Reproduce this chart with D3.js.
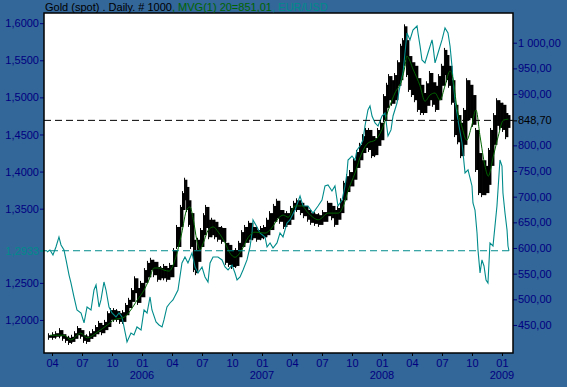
<!DOCTYPE html>
<html>
<head>
<meta charset="utf-8">
<script src="https://cdn.jsdelivr.net/npm/d3@7"></script>
<style>
html, body { margin: 0; padding: 0; background: #336699; }
svg { display: block; font-family: Arial, "Liberation Sans", sans-serif; }
</style>
</head>
<body>
<svg id="chart" width="567" height="387"></svg>
<script>
// time is in decimal years
const eurUsd = [
  [2005.208,1.2916],[2005.233,1.2943],[2005.258,1.2876],[2005.283,1.2984],[2005.308,1.3119],[2005.325,1.3011],
  [2005.350,1.2943],[2005.367,1.2809],[2005.392,1.2606],[2005.408,1.2499],[2005.433,1.2310],[2005.458,1.2135],
  [2005.492,1.2094],[2005.517,1.1960],[2005.542,1.2175],[2005.575,1.2135],[2005.600,1.2404],[2005.617,1.2472],
  [2005.642,1.2175],[2005.658,1.2270],[2005.683,1.2512],[2005.700,1.2404],[2005.725,1.2175],[2005.750,1.2094],
  [2005.783,1.2040],[2005.808,1.2094],[2005.833,1.2040],[2005.867,1.1771],[2005.875,1.1704],[2005.908,1.1825],
  [2005.933,1.1798],[2005.958,1.1906],[2005.992,1.1865],[2006.017,1.2135],[2006.042,1.2094],[2006.067,1.2310],
  [2006.083,1.2135],[2006.117,1.1973],[2006.142,1.1933],[2006.167,1.1906],[2006.183,1.2000],[2006.208,1.2175],
  [2006.233,1.2229],[2006.258,1.2270],[2006.300,1.2404],[2006.333,1.2768],[2006.358,1.2849],[2006.383,1.2768],
  [2006.417,1.2903],[2006.442,1.2714],[2006.467,1.2633],[2006.500,1.2714],[2006.525,1.2580],[2006.550,1.2512],
  [2006.567,1.2768],[2006.592,1.2849],[2006.633,1.2849],[2006.667,1.2809],[2006.692,1.2714],[2006.717,1.2674],
  [2006.750,1.2741],[2006.775,1.2633],[2006.792,1.2539],[2006.817,1.2580],[2006.842,1.2674],[2006.875,1.2809],
  [2006.900,1.2984],[2006.917,1.3173],[2006.925,1.3348],[2006.958,1.3253],[2006.983,1.3173],[2007.025,1.3119],
  [2007.042,1.2984],[2007.067,1.3038],[2007.092,1.2970],[2007.125,1.3038],[2007.150,1.3173],[2007.175,1.3119],
  [2007.208,1.3307],[2007.233,1.3348],[2007.275,1.3482],[2007.317,1.3671],[2007.342,1.3536],[2007.383,1.3536],
  [2007.425,1.3442],[2007.467,1.3536],[2007.500,1.3617],[2007.525,1.3806],[2007.550,1.3819],[2007.583,1.3738],
  [2007.608,1.3806],[2007.633,1.3536],[2007.667,1.3617],[2007.692,1.3806],[2007.708,1.3981],[2007.717,1.4156],
  [2007.750,1.4210],[2007.775,1.4156],[2007.792,1.4291],[2007.817,1.4345],[2007.842,1.4426],[2007.858,1.4614],
  [2007.883,1.4830],[2007.900,1.4884],[2007.917,1.4749],[2007.942,1.4655],[2007.967,1.4614],[2008.000,1.4749],
  [2008.025,1.4790],[2008.050,1.4480],[2008.075,1.4561],[2008.092,1.4749],[2008.125,1.4924],[2008.150,1.5154],
  [2008.175,1.5329],[2008.208,1.5868],[2008.233,1.5774],[2008.258,1.5908],[2008.292,1.5962],[2008.300,1.5868],
  [2008.317,1.5693],[2008.333,1.5504],[2008.358,1.5464],[2008.383,1.5598],[2008.417,1.5774],[2008.425,1.5693],
  [2008.442,1.5464],[2008.467,1.5598],[2008.500,1.5774],[2008.525,1.5935],[2008.550,1.5868],[2008.567,1.5693],
  [2008.583,1.5423],[2008.592,1.5234],[2008.608,1.4965],[2008.633,1.4695],[2008.667,1.4385],[2008.692,1.3981],
  [2008.717,1.4022],[2008.750,1.3806],[2008.758,1.3577],[2008.775,1.3482],[2008.792,1.3173],[2008.800,1.2943],
  [2008.817,1.2633],[2008.833,1.2809],[2008.850,1.2728],[2008.867,1.2539],[2008.883,1.2499],[2008.900,1.3038],
  [2008.925,1.2997],[2008.958,1.3536],[2008.983,1.4156],[2009.000,1.4075],[2009.008,1.3711],[2009.025,1.3442],
  [2009.042,1.3213],[2009.050,1.2997],[2009.058,1.2933]
];

// [time, low, high]
const goldBars = [
  [2005.233,425,430],[2005.267,425,432],[2005.292,427,434],[2005.325,428,440],[2005.350,423,432],[2005.375,419,427],
  [2005.400,415,425],[2005.425,417,427],[2005.450,423,434],[2005.475,430,444],[2005.500,427,440],[2005.525,419,430],
  [2005.550,417,428],[2005.575,423,434],[2005.600,427,438],[2005.625,432,446],[2005.650,436,454],[2005.675,434,450],
  [2005.700,440,456],[2005.725,446,473],[2005.750,460,479],[2005.775,460,479],[2005.800,460,477],[2005.825,456,473],
  [2005.850,456,475],[2005.875,469,489],[2005.900,483,499],[2005.925,495,518],[2005.950,512,541],[2005.975,493,522],
  [2006.000,504,532],[2006.033,532,557],[2006.058,543,571],[2006.083,557,577],[2006.108,547,573],[2006.142,538,563],
  [2006.167,541,561],[2006.192,541,565],[2006.217,538,561],[2006.242,543,567],[2006.275,563,596],[2006.300,602,641],
  [2006.333,641,680],[2006.350,674,707],[2006.367,693,733],[2006.383,674,719],[2006.400,645,693],[2006.417,602,668],
  [2006.442,557,616],[2006.458,551,596],[2006.475,573,616],[2006.500,602,635],[2006.525,625,664],[2006.542,639,680],
  [2006.567,621,655],[2006.592,625,655],[2006.617,621,651],[2006.642,616,641],[2006.675,612,639],[2006.708,571,610],
  [2006.733,567,606],[2006.758,563,596],[2006.792,565,596],[2006.817,582,610],[2006.842,602,631],[2006.867,610,641],
  [2006.900,616,649],[2006.933,619,641],[2006.967,616,635],[2007.000,619,639],[2007.025,621,641],[2007.050,625,655],
  [2007.075,635,668],[2007.108,651,682],[2007.133,658,692],[2007.158,651,674],[2007.192,641,668],[2007.217,645,668],
  [2007.250,655,678],[2007.275,674,688],[2007.300,674,693],[2007.333,668,688],[2007.358,662,682],[2007.392,655,674],
  [2007.417,649,668],[2007.450,647,666],[2007.483,645,664],[2007.517,651,670],[2007.558,662,688],[2007.592,658,682],
  [2007.617,645,674],[2007.642,655,678],[2007.667,668,693],[2007.692,693,727],[2007.717,709,740],[2007.742,720,748],
  [2007.775,733,771],[2007.800,756,787],[2007.825,771,801],[2007.850,785,818],[2007.875,795,830],[2007.900,791,830],
  [2007.925,779,818],[2007.950,781,814],[2007.975,799,830],[2008.000,810,844],[2008.025,849,896],[2008.050,873,918],
  [2008.067,888,935],[2008.092,881,927],[2008.117,888,937],[2008.142,916,962],[2008.167,927,994],[2008.183,955,1005],
  [2008.200,966,1032],[2008.217,937,1005],[2008.233,908,974],[2008.258,898,962],[2008.283,888,955],[2008.308,869,931],
  [2008.333,863,918],[2008.358,863,902],[2008.383,877,921],[2008.408,888,941],[2008.433,879,923],[2008.458,869,916],
  [2008.483,888,935],[2008.508,916,955],[2008.533,937,986],[2008.550,927,976],[2008.567,916,955],[2008.592,883,927],
  [2008.617,820,879],[2008.642,806,859],[2008.667,779,844],[2008.692,801,869],[2008.717,849,927],[2008.742,853,918],
  [2008.767,840,898],[2008.792,752,830],[2008.817,707,785],[2008.842,703,771],[2008.875,707,760],[2008.900,723,791],
  [2008.917,760,830],[2008.942,801,859],[2008.967,838,888],[2008.992,834,883],[2009.017,830,879],[2009.042,816,863],
  [2009.058,834,859]
];

// MVG(1) 20
const goldMa = [
  [2005.233,430],[2005.350,430],[2005.406,421],[2005.489,434],[2005.544,425],[2005.628,436],[2005.711,450],
  [2005.767,460],[2005.850,465],[2005.906,479],[2005.961,499],[2006.017,518],[2006.058,538],[2006.100,561],
  [2006.142,561],[2006.183,557],[2006.225,555],[2006.275,577],[2006.331,629],[2006.372,674],[2006.400,680],
  [2006.428,655],[2006.456,616],[2006.483,596],[2006.511,610],[2006.553,635],[2006.594,641],[2006.636,631],
  [2006.692,610],[2006.733,590],[2006.775,582],[2006.831,596],[2006.886,621],[2006.942,631],[2007.025,629],
  [2007.081,639],[2007.136,658],[2007.178,664],[2007.219,660],[2007.275,682],[2007.331,682],[2007.386,668],
  [2007.469,655],[2007.553,668],[2007.636,668],[2007.678,682],[2007.719,713],[2007.775,746],[2007.831,785],
  [2007.886,805],[2007.942,810],[2007.998,830],[2008.053,869],[2008.108,902],[2008.164,927],[2008.192,955],
  [2008.206,974],[2008.261,947],[2008.317,916],[2008.358,886],[2008.400,898],[2008.442,902],[2008.483,888],
  [2008.525,916],[2008.567,945],[2008.594,927],[2008.622,877],[2008.664,838],[2008.706,810],[2008.747,838],
  [2008.783,869],[2008.817,818],[2008.858,760],[2008.886,740],[2008.928,779],[2008.969,818],[2009.011,849],
  [2009.053,851]
];

const eurTicks = [1.20, 1.25, 1.35, 1.40, 1.45, 1.50, 1.55, 1.60];
const eurLast = 1.2933;
const goldTicks = [450, 500, 550, 600, 650, 700, 750, 800, 900, 950, 1000];
const goldLast = 848.70;
const maLast = 851.01;

const quarterTicks = [2005.25, 2005.5, 2005.75, 2006, 2006.25, 2006.5, 2006.75, 2007, 2007.25, 2007.5, 2007.75,
  2008, 2008.25, 2008.5, 2008.75, 2009];
const quarterLabels = ["04", "07", "10", "01", "04", "07", "10", "01", "04", "07", "10", "01", "04", "07", "10", "01"];
const yearTicks = [2006, 2007, 2008, 2009];

const W = 567, H = 387;
const plotL = 44, plotR = 513, plotT = 13, plotB = 353;
const navy = "#000080", teal = "#008b8b", green = "#006400";

const svg = d3.select("#chart");

const x = d3.scaleLinear().domain([2005.1833, 2009.0917]).range([plotL, plotR]);
const yGold = d3.scaleLinear().domain([395.4, 1057.9]).range([plotB, plotT]);
const yEur = d3.scaleLinear().domain([1.1555, 1.6137]).range([plotB, plotT]);

const loc = d3.formatLocale({ decimal: ",", thousands: " ", grouping: [3], currency: ["", ""] });
const fmtGold = loc.format(",.2f");
const fmtEur = loc.format(".4f");

svg.append("rect").attr("width", W).attr("height", H).attr("fill", "#336699");
svg.append("rect")
  .attr("x", plotL).attr("y", plotT)
  .attr("width", plotR - plotL).attr("height", plotB - plotT)
  .attr("fill", "#fff");

svg.append("clipPath").attr("id", "plot")
  .append("rect").attr("x", plotL).attr("y", plotT).attr("width", plotR - plotL).attr("height", plotB - plotT);

const g = svg.append("g").attr("clip-path", "url(#plot)");

// last value lines
svg.append("line")
  .attr("x1", plotL).attr("x2", plotR + 4)
  .attr("y1", yGold(goldLast)).attr("y2", yGold(goldLast))
  .attr("stroke", "#000").attr("stroke-dasharray", "7,4");
svg.append("line")
  .attr("x1", plotL - 4).attr("x2", plotR)
  .attr("y1", yEur(eurLast)).attr("y2", yEur(eurLast))
  .attr("stroke", teal).attr("stroke-dasharray", "7,4");

// gold high-low bars, each one wide enough to meet the next
const barW = (d, i) => i < goldBars.length - 1 ? x(goldBars[i + 1][0]) - x(d[0]) + 0.4 : 2.5;
g.selectAll(".bar")
  .data(goldBars)
  .enter()
  .append("rect")
  .attr("class", "bar")
  .attr("x", (d, i) => x(d[0]) - 1)
  .attr("width", barW)
  .attr("y", d => yGold(d[2]))
  .attr("height", d => yGold(d[1]) - yGold(d[2]))
  .attr("fill", "#000");
// thin spikes for the jagged edge
g.selectAll(".spike")
  .data(goldBars)
  .enter()
  .append("line")
  .attr("class", "spike")
  .attr("x1", d => x(d[0]) - 1.5).attr("x2", d => x(d[0]) - 1.5)
  .attr("y1", d => yGold(d[1]) + 2).attr("y2", d => yGold(d[2]) - 2)
  .attr("stroke", "#000").attr("stroke-width", 1);

// eur/usd
g.append("path")
  .datum(eurUsd)
  .attr("fill", "none")
  .attr("stroke", teal)
  .attr("stroke-width", 1.1)
  .attr("d", d3.line().x(d => x(d[0])).y(d => yEur(d[1])));

// moving average
g.append("path")
  .datum(goldMa)
  .attr("fill", "none")
  .attr("stroke", green)
  .attr("stroke-width", 1)
  .attr("d", d3.line().curve(d3.curveMonotoneX).x(d => x(d[0])).y(d => yGold(d[1])));

// axes
function styleAxis(sel, color) {
  sel.select(".domain").remove();
  sel.selectAll("text").attr("fill", color).style("font-size", "11px").style("font-family", "Arial, 'Liberation Sans', sans-serif");
  sel.selectAll("line").attr("stroke", color);
}

svg.append("g")
  .attr("transform", `translate(${plotL},0)`)
  .call(d3.axisLeft(yEur).tickValues(eurTicks).tickFormat(fmtEur).tickSize(4).tickPadding(1))
  .call(s => styleAxis(s, navy));
svg.append("g")
  .attr("transform", `translate(${plotL},0)`)
  .call(d3.axisLeft(yEur).tickValues([eurLast]).tickFormat(fmtEur).tickSize(4).tickPadding(1))
  .call(s => styleAxis(s, teal));

svg.append("g")
  .attr("transform", `translate(${plotR},0)`)
  .call(d3.axisRight(yGold).tickValues(goldTicks).tickFormat(fmtGold).tickSize(4).tickPadding(1))
  .call(s => styleAxis(s, navy));
svg.append("g")
  .attr("transform", `translate(${plotR},0)`)
  .call(d3.axisRight(yGold).tickValues([goldLast]).tickFormat(fmtGold).tickSize(4).tickPadding(1))
  .call(s => styleAxis(s, "#000"));

const xAxis = svg.append("g")
  .attr("transform", `translate(0,${plotB})`)
  .call(d3.axisBottom(x).tickValues(quarterTicks).tickFormat((d, i) => quarterLabels[i]).tickSize(3).tickPadding(3))
  .call(s => styleAxis(s, navy));
xAxis.selectAll("line").attr("stroke", "#000");

svg.selectAll(".year")
  .data(yearTicks)
  .enter()
  .append("text")
  .attr("class", "year")
  .attr("x", d => x(d))
  .attr("y", 379)
  .attr("text-anchor", "middle")
  .attr("fill", navy)
  .style("font-size", "11px")
  .text(d => d);

// frame
svg.append("rect")
  .attr("x", plotL).attr("y", plotT)
  .attr("width", plotR - plotL).attr("height", plotB - plotT)
  .attr("fill", "none").attr("stroke", "#000").attr("stroke-width", 1.5);

// title
const title = svg.append("text").attr("x", 45).attr("y", 11).style("font-size", "11px");
title.append("tspan").attr("fill", "#000").text("Gold (spot) . Daily. # 1000");
title.append("tspan").attr("fill", green).text(", MVG(1) 20=" + fmtGold(maLast));
title.append("tspan").attr("fill", teal).text(", EUR/USD");
</script>
</body>
</html>
